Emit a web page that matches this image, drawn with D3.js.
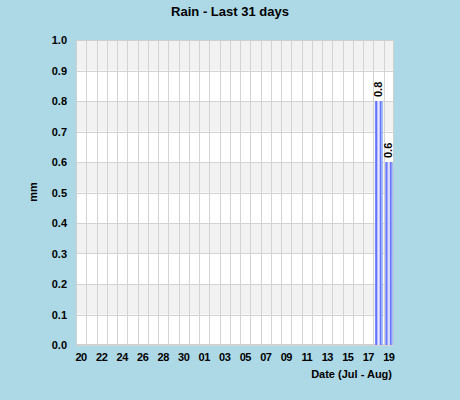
<!DOCTYPE html>
<html><head><meta charset="utf-8">
<script src="https://cdn.jsdelivr.net/npm/d3@7"></script>
<style>html,body{margin:0;padding:0;background:#add8e6;}svg{display:block;}</style>
</head><body>
<script>
const days = ["20","21","22","23","24","25","26","27","28","29","30","31",
  "01","02","03","04","05","06","07","08","09","10","11","12","13","14","15","16","17","18","19"];
const rain = [0,0,0,0,0,0,0,0,0,0,0,0,0,0,0,0,0,0,0,0,0,0,0,0,0,0,0,0,0,0.8,0.6];
const tickLabels = ["20","22","24","26","28","30","01","03","05","07","09","11","13","15","17","19"];
const yTicks = [0,0.1,0.2,0.3,0.4,0.5,0.6,0.7,0.8,0.9,1.0];
const title = "Rain - Last 31 days";
const yTitle = "mm";
const xTitle = "Date (Jul - Aug)";

const W = 460, H = 400;
const L = 76, R = 394, T = 40, B = 345;
const svg = d3.select("body").append("svg").attr("width", W).attr("height", H);
svg.append("rect").attr("width", W).attr("height", H).attr("fill", "#add8e6");

const x = d3.scaleBand().domain(days.map((d,i)=>i)).range([L, R]).padding(0);
const y = d3.scaleLinear().domain([0, 1]).range([B, T]);

const defs = svg.append("defs");
const g = defs.append("linearGradient").attr("id","barg").attr("x1","0").attr("x2","1").attr("y1","0").attr("y2","0");
[["0%","#8090ff"],["25%","#6070ff"],["40%","#c4c8ff"],["55%","#e8e8ff"],["70%","#c4c8ff"],["82%","#6070ff"],["100%","#7080ff"]]
  .forEach(s=>g.append("stop").attr("offset",s[0]).attr("stop-color",s[1]));

// plot background bands
svg.append("rect").attr("x", L).attr("y", T).attr("width", R-L).attr("height", B-T).attr("fill", "#ffffff");
for (let i = 0; i < yTicks.length-1; i++) {
  if (i % 2 === 1) {
    svg.append("rect").attr("x", L).attr("y", y(yTicks[i+1])).attr("width", R-L)
      .attr("height", y(yTicks[i]) - y(yTicks[i+1])).attr("fill", "#f2f2f2");
  }
}
// grid
const vg = svg.append("g").attr("stroke", "#d3d3d3").attr("stroke-width", 1);
days.forEach((d,i)=>{
  if (i>0) vg.append("line").attr("x1", Math.round(x(i))+0.5).attr("x2", Math.round(x(i))+0.5).attr("y1", T).attr("y2", B);
});
yTicks.forEach(t=>{
  vg.append("line").attr("x1", L).attr("x2", R).attr("y1", Math.round(y(t))+0.5).attr("y2", Math.round(y(t))+0.5);
});
svg.append("rect").attr("x", L+0.5).attr("y", T+0.5).attr("width", R-L-1).attr("height", B-T-1)
  .attr("fill","none").attr("stroke","#cfcfcf");

const font = "Liberation Sans, Arial, sans-serif";
// bars
const bw = x.bandwidth();
const bars = svg.append("g");
rain.forEach((v,i)=>{
  if (v <= 0) return;
  const bx = x(i) + 1.5, w = 6.5;
  bars.append("rect").attr("x", bx + w).attr("y", y(v)).attr("width", 1.5).attr("height", B - y(v)).attr("fill", "#9fc3f5");
  bars.append("rect").attr("x", bx).attr("y", y(v)).attr("width", w).attr("height", B - y(v)).attr("fill", "url(#barg)");
  svg.append("text").attr("transform", `translate(${bx + w/2 + 4},${y(v) - 4}) rotate(-90)`)
    .attr("font-family", font).attr("font-weight","bold").attr("font-size", 11)
    .attr("fill","#000").text(v.toFixed(1));
});

// y axis labels
yTicks.forEach(t=>{
  svg.append("text").attr("x", 67).attr("y", y(t) + 4).attr("text-anchor","end")
    .attr("font-family", font).attr("font-weight","bold").attr("font-size", 11).attr("fill","#000")
    .text(t.toFixed(1));
});
// x axis labels
days.forEach((d,i)=>{
  if (i % 2 !== 0 || !tickLabels.includes(d)) return;
  svg.append("text").attr("x", x(i) + bw/2).attr("y", 361).attr("text-anchor","middle")
    .attr("font-family", font).attr("font-weight","bold").attr("font-size", 11).attr("fill","#000")
    .attr("letter-spacing", -0.5).text(d);
});
svg.append("text").attr("x", 392).attr("y", 378).attr("text-anchor","end")
  .attr("font-family", font).attr("font-weight","bold").attr("font-size", 11).attr("fill","#000").text(xTitle);
svg.append("text").attr("transform", "translate(37,192) rotate(-90)").attr("text-anchor","middle")
  .attr("font-family", font).attr("font-weight","bold").attr("font-size", 11).attr("fill","#000").text(yTitle);
svg.append("text").attr("x", 230).attr("y", 16).attr("text-anchor","middle")
  .attr("font-family", font).attr("font-weight","bold").attr("font-size", 13).attr("fill","#000").text(title);
</script>
</body></html>
